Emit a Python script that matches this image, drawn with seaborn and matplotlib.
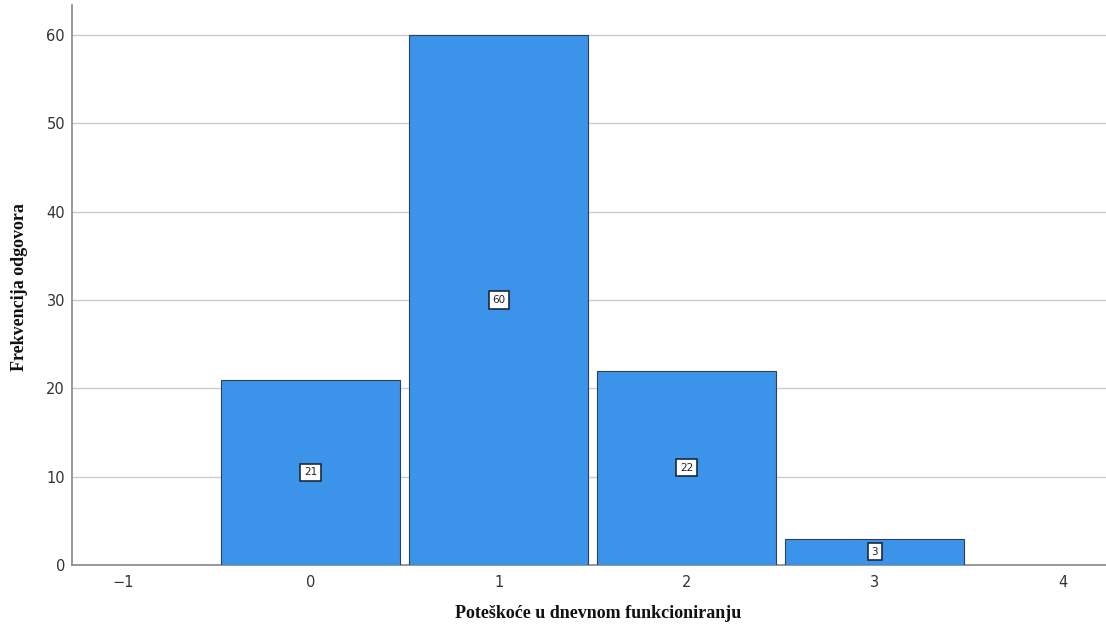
import matplotlib
matplotlib.use("Agg")
import matplotlib.pyplot as plt
import seaborn as sns
import pandas as pd

# data
categories = [0, 1, 2, 3]
counts = [21, 60, 22, 3]
x_ticks = [-1, 0, 1, 2, 3, 4]
y_ticks = [0, 10, 20, 30, 40, 50, 60]

df = pd.DataFrame({"kategorija": categories, "frekvencija": counts})

sns.set_style("white")
fig = plt.figure(figsize=(11.06, 6.25), dpi=100)
ax = fig.add_axes([0.0651, 0.096, 0.9349, 0.896])

sns.histplot(data=df, x="kategorija", weights="frekvencija", discrete=True,
             shrink=0.95, color="#3B94EA", alpha=1.0, edgecolor="#2f3f55",
             linewidth=0.8, ax=ax, zorder=3)

# value labels in white boxes, centred in each bar
for cat, val in zip(categories, counts):
    ax.text(cat, val / 2, str(val), ha="center", va="center", fontsize=7.5,
            color="#222222", zorder=5,
            bbox=dict(boxstyle="square,pad=0.35", facecolor="white",
                      edgecolor="#1a2a3a", linewidth=1.2))

ax.set_xlim(-1.27, 4.23)
ax.set_ylim(0, 63.4)
ax.set_xticks(x_ticks)
ax.set_yticks(y_ticks)
ax.set_xticklabels(["\u22121" if t < 0 else str(t) for t in x_ticks])
ax.tick_params(axis="both", length=0, labelsize=10.5, labelcolor="#333333")
ax.tick_params(axis="y", pad=5)
ax.tick_params(axis="x", pad=7)

ax.yaxis.grid(True, color="#cccccc", linewidth=1.0, zorder=0)
ax.set_axisbelow(True)
sns.despine(ax=ax, top=True, right=True)
for side in ["left", "bottom"]:
    ax.spines[side].set_color("#888888")
    ax.spines[side].set_linewidth(1.2)

ax.set_xlabel("")
ax.set_ylabel("")
fig.text(598 / 1106, 1 - 614 / 625, "Poteškoće u dnevnom funkcioniranju",
         ha="center", va="center", fontsize=13, fontweight="bold",
         family="Liberation Serif", color="#111111")
fig.text(20 / 1106, 1 - 287 / 625, "Frekvencija odgovora", rotation=90,
         ha="center", va="center", fontsize=13, fontweight="bold",
         family="Liberation Serif", color="#111111")

fig.savefig("out.png", dpi=100)
plt.close(fig)
